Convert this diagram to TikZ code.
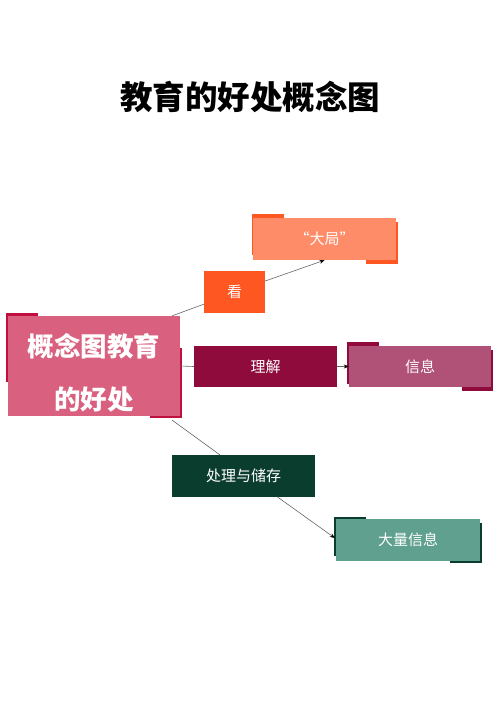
\documentclass[tikz,border=0pt]{standalone}
\usepackage{fontspec}
\setmainfont{Noto Sans CJK SC}
\usetikzlibrary{calc,arrows.meta}
\definecolor{mainpink}{HTML}{D9607E}
\definecolor{crimson}{HTML}{C0103F}
\definecolor{orng}{HTML}{FF5722}
\definecolor{salmon}{HTML}{FF8C69}
\definecolor{wine}{HTML}{8E0B3B}
\definecolor{mauve}{HTML}{B05277}
\definecolor{dgreen}{HTML}{0B3D2E}
\definecolor{teal2}{HTML}{5FA08E}
\tikzset{
  box/.style={rectangle, inner sep=0pt, text=white, font=\fontsize{15}{17}\selectfont},
  link/.style={draw=black!60, line width=0.6pt},
  arr/.style={link, -{Stealth[length=5pt,width=4pt,color=black]}},
}
\begin{document}
\begin{tikzpicture}[x=1pt,y=-1pt]
\useasboundingbox (0,0) rectangle (500,707);
\node (title) at (250,97) {\fontsize{32.5}{36}\selectfont\bfseries 教育的好处概念图};
% accents
\fill[crimson] (6,313) rectangle (38,382);
\fill[crimson] (150,348) rectangle (182,418);
\fill[orng] (252,214) rectangle (284,255);
\fill[orng] (366,222) rectangle (398,264);
\fill[wine] (347,342) rectangle (379,384);
\fill[wine] (462,350) rectangle (493,391);
\fill[dgreen] (334,517) rectangle (366,556);
\fill[dgreen] (450,523) rectangle (482,563);
% nodes
\node[box, fill=mainpink, minimum width=172pt, minimum height=100pt, align=center,
  font=\fontsize{26.5}{53}\selectfont\bfseries] (m) at (94,366) {\rule{0pt}{37pt}概念图教育\\的好处};
\node[box, fill=orng, minimum width=61pt, minimum height=42pt] (see) at (234.5,292) {看};
\node[box, fill=salmon, minimum width=143pt, minimum height=42pt] (big) at (324.5,239) {“大局”};
\node[box, fill=wine, minimum width=143pt, minimum height=41pt] (li) at (265.5,366.5) {理解};
\node[box, fill=mauve, minimum width=142pt, minimum height=41pt] (xx) at (420,366.5) {信息};
\node[box, fill=dgreen, minimum width=143pt, minimum height=42pt] (cl) at (243.5,476) {处理与储存};
\node[box, fill=teal2, minimum width=144pt, minimum height=42pt] (dl) at (408,540) {大量信息};
% connectors
\draw[link] ($(m.north east)+(-8,0)$) -- ($(see.south west)+(0,-9)$);
\draw[arr] ($(see.east)+(0,-11)$) -- (big.south);
\draw[link] (m.east) -- (li.west);
\draw[arr] (li.east) -- (xx.west);
\draw[link] ($(m.south east)+(-8,4)$) -- ($(cl.north west)+(48,0)$);
\draw[arr] ($(cl.south west)+(106,0)$) -- ($(dl.west)+(-1,-2)$);
\end{tikzpicture}
\end{document}
